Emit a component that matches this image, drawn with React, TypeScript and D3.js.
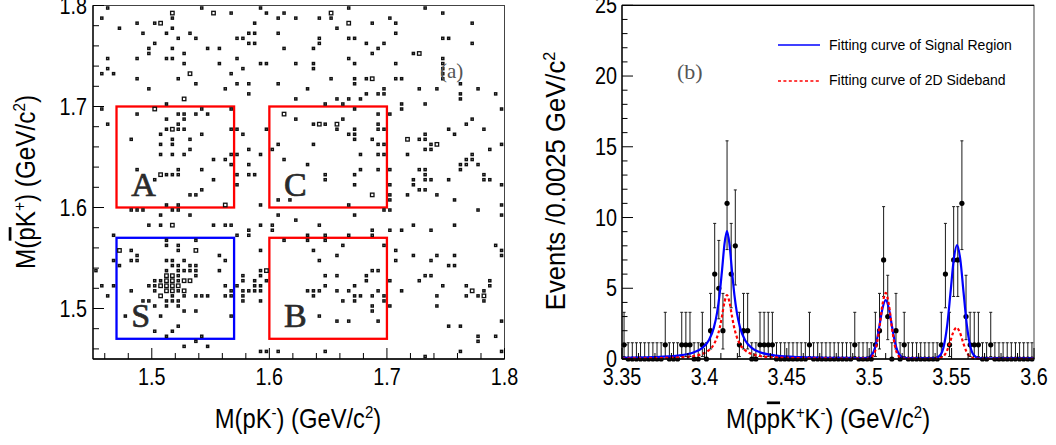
import React from 'react';
import * as d3 from 'd3';

// ---------------- Panel (a): 2D scatter, bin centres in GeV/c^2 ----------------
// rows: [M(pbar K+), list of M(p K-)] for bins with one entry
const singleRows: [number, number[]][] = [
  [1.7975, [1.4625, 1.5425, 1.5925, 1.6675, 1.7325]],
  [1.7925, [1.5675, 1.5975, 1.6125, 1.7475]],
  [1.7875, [1.4575, 1.5175, 1.6075, 1.6225, 1.6425, 1.6525, 1.7025]],
  [1.7825, [1.4875, 1.5025, 1.5875, 1.6875, 1.7075, 1.7725]],
  [1.7775, [1.4725, 1.5175, 1.6575]],
  [1.7725, [1.4925, 1.5125, 1.5325, 1.5825, 1.5875, 1.6075, 1.7075]],
  [1.7675, [1.5225, 1.5375, 1.5725, 1.5775, 1.6425, 1.6675, 1.6725, 1.7475, 1.7525]],
  [1.7625, [1.5025, 1.5825, 1.5875, 1.6425, 1.6825, 1.6975, 1.7725]],
  [1.7575, [1.4975, 1.5175, 1.5475, 1.5575, 1.6125, 1.6375, 1.6925]],
  [1.7525, [1.4975, 1.5275, 1.6875, 1.7225]],
  [1.7475, [1.4625, 1.4875, 1.5125, 1.5175, 1.5725, 1.6675, 1.7475]],
  [1.7425, [1.5275, 1.5575, 1.5925, 1.5975, 1.6225, 1.6375, 1.6725, 1.7075, 1.7475]],
  [1.7375, [1.4625, 1.5775, 1.6375, 1.7475]],
  [1.7325, [1.4575, 1.4675, 1.5675, 1.7475]],
  [1.7275, [1.4875, 1.5225, 1.6525, 1.6725, 1.6825, 1.7075, 1.7125, 1.7475]],
  [1.7225, [1.5375, 1.5725, 1.5825, 1.6075, 1.6725, 1.7625]],
  [1.7175, [1.4975, 1.5625, 1.6325, 1.6975, 1.7275, 1.7425, 1.7775]],
  [1.7125, [1.5825, 1.6825, 1.6925, 1.6975, 1.7625, 1.7925]],
  [1.7075, [1.6225, 1.6575, 1.6675, 1.6775, 1.7625]],
  [1.7025, [1.5125, 1.6475, 1.6625, 1.7125, 1.7325]],
  [1.6975, [1.4575, 1.5425, 1.5675, 1.6725, 1.7125, 1.7975]],
  [1.6925, [1.4875, 1.5225, 1.5275, 1.5375, 1.5475, 1.6925, 1.7025]],
  [1.6875, [1.5125, 1.5275, 1.6225, 1.6625, 1.7725]],
  [1.6825, [1.4625, 1.5225, 1.6375, 1.6475, 1.6925, 1.7675]],
  [1.6775, [1.5125, 1.5225, 1.5275, 1.5675, 1.5725, 1.5975, 1.6575, 1.6725, 1.6925, 1.6975, 1.7525, 1.7825]],
  [1.6725, [1.5075, 1.5425, 1.5775, 1.6675, 1.6725, 1.7325, 1.7575]],
  [1.6675, [1.4825, 1.5175, 1.5325, 1.6725, 1.6875, 1.7275, 1.7325]],
  [1.6625, [1.5075, 1.5175, 1.6075, 1.6375, 1.6925, 1.6975, 1.7375, 1.7975]],
  [1.6575, [1.5325, 1.5825, 1.6025, 1.7325, 1.7375, 1.7875]],
  [1.6525, [1.5075, 1.5175, 1.5275, 1.5675, 1.5725, 1.5925, 1.6775, 1.6925, 1.6975, 1.7175, 1.7725]],
  [1.6475, [1.5525, 1.5625, 1.6125, 1.7675, 1.7725]],
  [1.6425, [1.5675, 1.5825, 1.6325, 1.7625, 1.7675, 1.7775]],
  [1.6375, [1.4875, 1.5225, 1.5425, 1.6775, 1.6925, 1.7025, 1.7275, 1.7325, 1.7625]],
  [1.6325, [1.5125, 1.5175, 1.5225, 1.5725, 1.5825, 1.5875, 1.6475, 1.6725, 1.7325, 1.7825]],
  [1.6275, [1.5025, 1.5525, 1.6475, 1.7225, 1.7325, 1.7375, 1.7525, 1.7825, 1.7875]],
  [1.6225, [1.5725, 1.6725, 1.7025, 1.7225, 1.7975]],
  [1.6175, [1.5425, 1.7275, 1.7325]],
  [1.6125, [1.5325, 1.5375, 1.7025, 1.7175, 1.7425]],
  [1.6075, [1.6075, 1.6175, 1.7025, 1.7575]],
  [1.6025, [1.5125, 1.5225, 1.5925, 1.6675, 1.7975]],
  [1.5975, [1.4825, 1.4875, 1.4925, 1.5175, 1.5225, 1.6975, 1.7025, 1.7775]],
  [1.5925, [1.5075, 1.5325, 1.6075, 1.6725, 1.7975]],
  [1.5875, [1.6225]],
  [1.5825, [1.4975, 1.5075, 1.5525, 1.5625, 1.5675, 1.5925, 1.6025, 1.6425, 1.7225, 1.7575]],
  [1.5775, [1.5825, 1.6025, 1.6875, 1.7025, 1.7125, 1.7375]],
  [1.5725, [1.4675, 1.5725, 1.5825, 1.6325, 1.6475, 1.6675, 1.6875]],
  [1.5675, [1.5125, 1.5375, 1.6125, 1.6325, 1.6475]],
  [1.5625, [1.5125, 1.5225, 1.6625, 1.6975, 1.7925]],
  [1.5575, [1.4825, 1.5225, 1.5925, 1.6375, 1.7075, 1.7975]],
  [1.5525, [1.4875, 1.5575, 1.6575, 1.7225, 1.7425, 1.7575, 1.7975]],
  [1.5475, [1.4675, 1.4825, 1.4875, 1.5125, 1.5175, 1.5275, 1.5625, 1.6425, 1.7075, 1.7375]],
  [1.5425, [1.4725, 1.5175, 1.5225, 1.5325, 1.5375, 1.7525, 1.7575]],
  [1.5375, [1.4525, 1.5125, 1.5225, 1.5275, 1.5325, 1.5375, 1.5575, 1.5925, 1.6875, 1.6925]],
  [1.5325, [1.5225, 1.5375, 1.5775, 1.5925, 1.6475, 1.6575, 1.6825, 1.7325, 1.7375]],
  [1.5275, [1.5025, 1.5075, 1.5225, 1.5775, 1.5875, 1.5975, 1.6825, 1.7025, 1.7275, 1.7875]],
  [1.5225, [1.4575, 1.4675, 1.4975, 1.5025, 1.5625, 1.5725, 1.5875, 1.5925, 1.6475, 1.6725, 1.7475, 1.7675, 1.7875]],
  [1.5175, [1.4825, 1.5025, 1.5225, 1.5675, 1.5775, 1.5825, 1.5875, 1.5925, 1.6325, 1.6375, 1.6425, 1.6575, 1.6675, 1.6925, 1.7125, 1.7825]],
  [1.5125, [1.4625, 1.5175, 1.5275, 1.5375, 1.5425, 1.5475, 1.5625, 1.5675, 1.5775, 1.6375, 1.6725, 1.6775, 1.6875, 1.6975, 1.7425, 1.7675, 1.7775]],
  [1.5075, [1.4925, 1.4975, 1.5125, 1.5175, 1.5225, 1.5775, 1.5925, 1.6625, 1.6725, 1.6975, 1.7825]],
  [1.5025, [1.5025, 1.5125, 1.5225, 1.6875, 1.7025, 1.7425]],
  [1.4975, [1.5275, 1.5375, 1.6875]],
  [1.4925, [1.4775, 1.5075, 1.5675, 1.6425]],
  [1.4875, [1.6575, 1.6675, 1.6925, 1.7975]],
  [1.4825, [1.5225, 1.7525, 1.7625]],
  [1.4775, [1.5025, 1.5175]],
  [1.4725, [1.5125, 1.5425, 1.7775, 1.7925]],
  [1.4675, [1.5375, 1.7775]],
  [1.4625, [1.5275, 1.5475]],
  [1.4575, [1.5925, 1.5975, 1.6075, 1.6475, 1.7625, 1.7975]],
  [1.4525, [1.7325]],
];

// bins with two entries
const doubleRows: [number, number[]][] = [
  [1.7925, [1.5175, 1.5525, 1.6525]],
  [1.7825, [1.5075, 1.6675]],
  [1.7525, [1.7275]],
  [1.7325, [1.5325]],
  [1.7275, [1.6875]],
  [1.7075, [1.5275]],
  [1.6975, [1.5025]],
  [1.6925, [1.6125]],
  [1.6825, [1.6425, 1.6575]],
  [1.6775, [1.5175]],
  [1.6675, [1.7175]],
  [1.6625, [1.7425]],
  [1.6325, [1.5075]],
  [1.6125, [1.6875]],
  [1.6025, [1.5625]],
  [1.5825, [1.5175]],
  [1.5575, [1.4725, 1.5375]],
  [1.5375, [1.5975]],
  [1.5325, [1.5125, 1.5175]],
  [1.5275, [1.5125, 1.5175, 1.5275, 1.5325]],
  [1.5225, [1.5075, 1.5125, 1.5175, 1.5225]],
  [1.5175, [1.5125, 1.5175, 1.5275, 1.7725]],
  [1.5125, [1.5075, 1.7825]],
];

const regionNames = ['A', 'C', 'S', 'B'];
// [xLow, xHigh, yLow, yHigh] in GeV/c^2
const regionBounds: [number, number, number, number][] = [
  [1.47, 1.57, 1.6, 1.7],
  [1.6, 1.7, 1.6, 1.7],
  [1.47, 1.57, 1.47, 1.57],
  [1.6, 1.7, 1.47, 1.57],
];
const aTicks = [1.5, 1.6, 1.7, 1.8];
const aTickLabels = ['1.5', '1.6', '1.7', '1.8'];

// ---------------- Panel (b): M(p pbar K+ K-) histogram ----------------
const binStart = 3.35;
const binWidth = 0.0025;
const binCounts = [
  1, 0, 0, 0, 0, 0, 0, 0, 0, 0,
  1, 0, 0, 0, 1, 1, 1, 0, 0, 1,
  0, 2, 6, 5, 2, 11, 6, 8, 1, 2,
  2, 0, 0, 1, 1, 1, 1, 0, 0, 0,
  0, 0, 0, 0, 0, 1, 0, 0, 0, 0,
  0, 0, 0, 0, 0, 0, 1, 0, 0, 0,
  0, 1, 2, 7, 3, 0, 2, 0, 1, 0,
  0, 0, 0, 0, 0, 0, 0, 1, 6, 1,
  7, 7, 11, 3, 1, 1, 1, 0, 0, 1,
  0, 0, 0, 0, 0, 0, 0, 0, 0, 0,
];
// 68% Poisson interval ends for n = 0..11
const poissonLow = [0, 0.173, 0.708, 1.367, 2.086, 2.84, 3.62, 4.419, 5.232, 6.057, 6.891, 7.734];
const poissonHigh = [1.148, 3.3, 4.638, 5.918, 7.163, 8.382, 9.584, 10.77, 11.95, 13.11, 14.27, 15.42];

const signalCurveX = [
  3.35, 3.3687, 3.3837, 3.3937, 3.3987, 3.4027, 3.4057, 3.4077, 3.4092, 3.4107, 3.4122, 3.4137,
  3.4152, 3.4167, 3.4182, 3.4197, 3.4217, 3.4247, 3.4287, 3.4337, 3.4437, 3.4587, 3.4737, 3.49,
  3.495, 3.499, 3.502, 3.504, 3.506, 3.508, 3.51, 3.512, 3.514, 3.516, 3.518, 3.521, 3.525,
  3.5383, 3.5403, 3.5433, 3.5453, 3.5473, 3.5493, 3.5513, 3.5533, 3.5553, 3.5573, 3.5593, 3.5613,
  3.5633, 3.5663, 3.5683, 3.58, 3.6,
];
const signalCurveY = [
  0.085, 0.129, 0.238, 0.474, 0.784, 1.33, 2.2, 3.28, 4.54, 6.27, 8.14, 9.04,
  8.14, 6.27, 4.54, 3.28, 2.2, 1.33, 0.784, 0.474, 0.238, 0.129, 0.09, 0.071,
  0.066, 0.09, 0.36, 1.0, 2.19, 3.54, 4.16, 3.54, 2.19, 1.0, 0.36, 0.09, 0.058,
  0.052, 0.073, 0.3, 0.92, 2.35, 4.65, 7.02, 8.05, 7.02, 4.65, 2.35, 0.92,
  0.3, 0.073, 0.052, 0.048, 0.045,
];
const sidebandCurveX = [
  3.35, 3.3687, 3.3837, 3.3937, 3.3987, 3.4027, 3.4057, 3.4077, 3.4094, 3.4107, 3.4122, 3.4137,
  3.4152, 3.4167, 3.418, 3.4197, 3.4217, 3.4247, 3.4287, 3.4337, 3.4437, 3.4587, 3.4737, 3.49,
  3.495, 3.499, 3.502, 3.504, 3.506, 3.508, 3.51, 3.512, 3.514, 3.516, 3.518, 3.521, 3.525,
  3.538, 3.542, 3.545, 3.547, 3.549, 3.551, 3.553, 3.555, 3.557, 3.559, 3.561, 3.564, 3.568, 3.6,
];
const sidebandCurveY = [
  0.035, 0.056, 0.106, 0.214, 0.357, 0.615, 1.025, 1.545, 2.265, 3.045, 4.025, 4.515,
  4.025, 3.045, 2.265, 1.545, 1.025, 0.615, 0.357, 0.214, 0.106, 0.056, 0.038, 0.027,
  0.024, 0.026, 0.19, 0.73, 2.04, 3.8, 4.67, 3.8, 2.04, 0.73, 0.19, 0.026, 0.022,
  0.018, 0.034, 0.18, 0.53, 1.16, 1.89, 2.22, 1.89, 1.16, 0.53, 0.18, 0.034, 0.018, 0.016,
];
const bXTicks = [3.35, 3.4, 3.45, 3.5, 3.55, 3.6];
const bXTickLabels = ['3.35', '3.4', '3.45', '3.5', '3.55', '3.6'];
const bYTicks = [0, 5, 10, 15, 20, 25];
const legendLabels = ['Fitting curve of Signal Region', 'Fitting curve of 2D Sideband'];

const SANS = "'Liberation Sans', Arial, Helvetica, sans-serif";
const SERIF = "'Liberation Serif', 'Times New Roman', serif";

// condensed text helper (ROOT Helvetica looks narrower)
function CText(props: {
  x: number; y: number; size: number; anchor?: string; sx?: number; rotate?: number;
  fill?: string; family?: string; children: React.ReactNode;
}) {
  const { x, y, size, anchor = 'middle', sx = 0.86, rotate = 0, fill = '#000', family = SANS } = props;
  return (
    <text
      transform={`translate(${x},${y}) rotate(${rotate}) scale(${sx},1)`}
      fontFamily={family}
      fontSize={size}
      textAnchor={anchor}
      fill={fill}
    >
      {props.children}
    </text>
  );
}

function isMultiple(v: number, step: number) {
  const r = v / step;
  return Math.abs(r - Math.round(r)) < 1e-6;
}

const SUP_DY = 10;
const SUP_SIZE = 17;

export default function App() {
  // panel (a) scales
  const xA = d3.scaleLinear().domain([1.45, 1.8]).range([93, 504.5]);
  const yA = d3.scaleLinear().domain([1.45, 1.8]).range([359, 5.5]);
  // panel (b) scales
  const xB = d3.scaleLinear().domain([3.35, 3.6]).range([622, 1034]);
  const yB = d3.scaleLinear().domain([0, 25]).range([359, 5.3]);

  const aMinor = d3.range(0, 17).map((i) => 1.46 + 0.02 * i).filter((v) => !isMultiple(v, 0.1));
  const bMinorX = d3.range(0, 26).map((i) => 3.35 + 0.01 * i).filter((v) => !isMultiple(v - 3.35, 0.05));
  const bMinorY = d3.range(0, 26).filter((v) => v % 5 !== 0);

  const line = d3
    .line<[number, number]>()
    .x((d) => xB(d[0]))
    .y((d) => yB(d[1]))
    .curve(d3.curveMonotoneX);
  const sigPath = line(signalCurveX.map((x, i) => [x, signalCurveY[i]] as [number, number])) || '';
  const sbPath = line(sidebandCurveX.map((x, i) => [x, sidebandCurveY[i]] as [number, number])) || '';

  const regionColors = ['#ff0000', '#ff0000', '#0000ff', '#ff0000'];

  return (
    <svg
      width={1056}
      height={445}
      style={{ position: 'absolute', left: 0, top: 0, background: '#fff' }}
    >
      <rect x={0} y={0} width={1056} height={445} fill="#fff" />

      {/* ---------------- panel (a) ---------------- */}
      {regionBounds.map((b, i) => (
        <rect
          key={'reg' + i}
          x={xA(b[0])}
          y={yA(b[3])}
          width={xA(b[1]) - xA(b[0])}
          height={yA(b[2]) - yA(b[3])}
          fill="none"
          stroke={regionColors[i]}
          strokeWidth={2.3}
        />
      ))}
      {singleRows.map(([yv, xs], r) =>
        xs.map((xv, i) => (
          <rect
            key={`s${r}-${i}`}
            x={xA(xv) - 1.05}
            y={yA(yv) - 1.05}
            width={2.1}
            height={2.1}
            fill="#fff"
            stroke="#111"
            strokeWidth={1.45}
          />
        ))
      )}
      {doubleRows.map(([yv, xs], r) =>
        xs.map((xv, i) => (
          <rect
            key={`d${r}-${i}`}
            x={xA(xv) - 1.75}
            y={yA(yv) - 1.75}
            width={3.5}
            height={3.5}
            fill="#fff"
            stroke="#111"
            strokeWidth={1.3}
          />
        ))
      )}
      {regionNames.map((n, i) => (
        <text
          key={'rn' + i}
          x={xA(regionBounds[i][0] + 0.0125)}
          y={yA(regionBounds[i][2] + 0.0115)}
          fontFamily={SERIF}
          fontSize={34}
          fill="#2a2a2a"
          stroke="#2a2a2a"
          strokeWidth={0.7}
        >
          {n}
        </text>
      ))}
      <text x={440} y={78} fontFamily={SERIF} fontSize={21} fill="#555">(a)</text>

      {/* frame a */}
      <rect x={xA(1.45)} y={yA(1.8)} width={xA(1.8) - xA(1.45)} height={yA(1.45) - yA(1.8)} fill="none" stroke="#444" strokeWidth={1} />
      <line x1={xA(1.45)} x2={xA(1.8)} y1={yA(1.45)} y2={yA(1.45)} stroke="#000" strokeWidth={1.3} />
      <line x1={xA(1.45)} x2={xA(1.45)} y1={yA(1.45)} y2={yA(1.8)} stroke="#000" strokeWidth={1.3} />
      {aTicks.map((t) => (
        <g key={'axt' + t}>
          <line x1={xA(t)} x2={xA(t)} y1={yA(1.45)} y2={yA(1.45) - 11} stroke="#000" strokeWidth={1} />
          <line x1={xA(1.45)} x2={xA(1.45) + 11} y1={yA(t)} y2={yA(t)} stroke="#000" strokeWidth={1} />
        </g>
      ))}
      {aMinor.map((t) => (
        <g key={'axm' + t}>
          <line x1={xA(t)} x2={xA(t)} y1={yA(1.45)} y2={yA(1.45) - 6} stroke="#000" strokeWidth={1} />
          <line x1={xA(1.45)} x2={xA(1.45) + 6} y1={yA(t)} y2={yA(t)} stroke="#000" strokeWidth={1} />
        </g>
      ))}
      {aTicks.map((t, i) => (
        <CText key={'axl' + t} x={xA(t)} y={385} size={23}>{aTickLabels[i]}</CText>
      ))}
      {aTicks.map((t, i) => (
        <CText key={'ayl' + t} x={87} y={yA(t) + 8} size={23} anchor="end">{aTickLabels[i]}</CText>
      ))}
      <CText x={298} y={428} size={27} sx={0.88}>
        <tspan>M(pK</tspan>
        <tspan dy={-SUP_DY} fontSize={SUP_SIZE}>-</tspan>
        <tspan dy={SUP_DY}>) (GeV/c</tspan>
        <tspan dy={-SUP_DY} fontSize={SUP_SIZE}>2</tspan>
        <tspan dy={SUP_DY}>)</tspan>
      </CText>
      <CText x={35} y={182} size={27} sx={0.9} rotate={-90}>
        <tspan>M(</tspan>
        <tspan style={{ textDecoration: 'overline' }}>p</tspan>
        <tspan>K</tspan>
        <tspan dy={-SUP_DY} fontSize={SUP_SIZE}>+</tspan>
        <tspan dy={SUP_DY}>) (GeV/c</tspan>
        <tspan dy={-SUP_DY} fontSize={SUP_SIZE}>2</tspan>
        <tspan dy={SUP_DY}>)</tspan>
      </CText>

      {/* ---------------- panel (b) ---------------- */}
      {binCounts.map((n, i) => {
        const xc = xB(binStart + binWidth * (i + 0.5));
        const lo = yB(poissonLow[n]);
        const hi = yB(poissonHigh[n]);
        return (
          <g key={'eb' + i}>
            <line x1={xc} x2={xc} y1={lo} y2={hi} stroke="#1a1a1a" strokeWidth={1} />
            <line x1={xc - 1.5} x2={xc + 1.5} y1={hi} y2={hi} stroke="#1a1a1a" strokeWidth={1} />
            {n > 0 && <line x1={xc - 1.5} x2={xc + 1.5} y1={lo} y2={lo} stroke="#1a1a1a" strokeWidth={1} />}
          </g>
        );
      })}
      {binCounts.map((n, i) => (
        <circle key={'pt' + i} cx={xB(binStart + binWidth * (i + 0.5))} cy={yB(n)} r={2.6} fill="#000" />
      ))}
      <path d={sigPath} fill="none" stroke="#0000ff" strokeWidth={2.2} />
      <path d={sbPath} fill="none" stroke="#ff0000" strokeWidth={2.2} strokeDasharray="3,2.4" />

      {/* legend */}
      <line x1={778} x2={820} y1={45} y2={45} stroke="#0000ff" strokeWidth={1.5} />
      <line x1={778} x2={820} y1={81} y2={81} stroke="#ff0000" strokeWidth={1.5} strokeDasharray="3,2.4" />
      <CText x={829} y={49.5} size={14} anchor="start" sx={1.0}>{legendLabels[0]}</CText>
      <CText x={829} y={85} size={14} anchor="start" sx={1.0}>{legendLabels[1]}</CText>
      <text x={677} y={79} fontFamily={SERIF} fontSize={22} fill="#555">(b)</text>

      {/* frame b */}
      <rect x={xB(3.35)} y={yB(25)} width={xB(3.6) - xB(3.35)} height={yB(0) - yB(25)} fill="none" stroke="#444" strokeWidth={1} />
      <line x1={xB(3.35)} x2={xB(3.6)} y1={yB(0)} y2={yB(0)} stroke="#000" strokeWidth={1.3} />
      <line x1={xB(3.35)} x2={xB(3.35)} y1={yB(0)} y2={yB(25)} stroke="#000" strokeWidth={1.3} />
      <line x1={xB(3.35)} x2={xB(3.6)} y1={yB(25)} y2={yB(25)} stroke="#000" strokeWidth={1.3} />
      {bXTicks.map((t) => (
        <line key={'bxt' + t} x1={xB(t)} x2={xB(t)} y1={yB(0)} y2={yB(0) - 11} stroke="#000" strokeWidth={1} />
      ))}
      {bMinorX.map((t) => (
        <line key={'bxm' + t} x1={xB(t)} x2={xB(t)} y1={yB(0)} y2={yB(0) - 6} stroke="#000" strokeWidth={1} />
      ))}
      {bYTicks.map((t) => (
        <line key={'byt' + t} x1={xB(3.35)} x2={xB(3.35) + 11} y1={yB(t)} y2={yB(t)} stroke="#000" strokeWidth={1} />
      ))}
      {bMinorY.map((t) => (
        <line key={'bym' + t} x1={xB(3.35)} x2={xB(3.35) + 5.5} y1={yB(t)} y2={yB(t)} stroke="#000" strokeWidth={1} />
      ))}
      {bXTicks.map((t, i) => (
        <CText key={'bxl' + t} x={xB(t)} y={385} size={23}>{bXTickLabels[i]}</CText>
      ))}
      {bYTicks.map((t) => (
        <CText key={'byl' + t} x={617} y={yB(t) + 8} size={23} anchor="end">{String(t)}</CText>
      ))}
      <CText x={828} y={428} size={27} sx={0.88}>
        <tspan>M(p</tspan>
        <tspan style={{ textDecoration: 'overline' }}>p</tspan>
        <tspan>K</tspan>
        <tspan dy={-SUP_DY} fontSize={SUP_SIZE}>+</tspan>
        <tspan dy={SUP_DY}>K</tspan>
        <tspan dy={-SUP_DY} fontSize={SUP_SIZE}>-</tspan>
        <tspan dy={SUP_DY}>) (GeV/c</tspan>
        <tspan dy={-SUP_DY} fontSize={SUP_SIZE}>2</tspan>
        <tspan dy={SUP_DY}>)</tspan>
      </CText>
      <CText x={565} y={181} size={27} sx={0.95} rotate={-90}>
        <tspan>Events /0.0025 GeV/c</tspan>
        <tspan dy={-SUP_DY} fontSize={SUP_SIZE}>2</tspan>
      </CText>
    </svg>
  );
}
